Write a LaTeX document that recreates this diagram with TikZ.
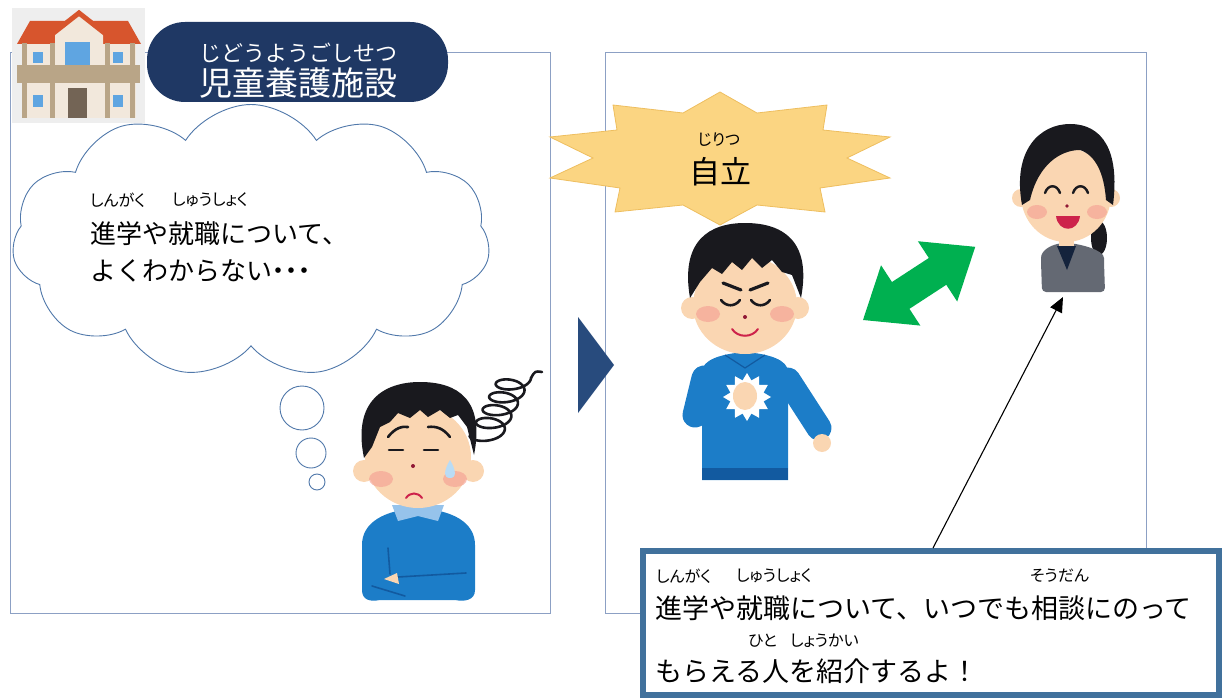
\documentclass[tikz,border=0pt]{standalone}
\usepackage{fontspec}
\setmainfont{Noto Sans CJK JP}
\newfontfamily\rubyfont[RawFeature=+palt]{Noto Sans CJK JP}
\usetikzlibrary{shapes.symbols,shapes.geometric,arrows.meta}

\definecolor{framegray}{RGB}{140,160,196}
\definecolor{navy}{RGB}{31,56,100}
\definecolor{cloudline}{RGB}{80,120,170}
\definecolor{chevron}{RGB}{40,75,125}
\definecolor{starfill}{RGB}{251,213,130}
\definecolor{starline}{RGB}{238,190,95}
\definecolor{arrowgreen}{RGB}{0,176,80}
\definecolor{boxline}{RGB}{65,113,156}
\definecolor{skincol}{RGB}{250,214,178}
\definecolor{blush}{RGB}{245,165,150}
\definecolor{hair}{RGB}{25,25,30}
\definecolor{shirt}{RGB}{28,125,200}
\definecolor{shirtdark}{RGB}{18,90,160}
\definecolor{collar}{RGB}{150,195,235}
\definecolor{suit}{RGB}{100,105,115}
\definecolor{innerwear}{RGB}{20,35,60}
\definecolor{lips}{RGB}{205,35,75}
\definecolor{sweat}{RGB}{185,220,245}
\definecolor{roof}{RGB}{215,85,45}
\definecolor{wall}{RGB}{242,232,220}
\definecolor{beam}{RGB}{185,165,135}
\definecolor{pane}{RGB}{95,165,225}
\definecolor{door}{RGB}{115,100,85}
\definecolor{housebg}{RGB}{238,238,238}

\begin{document}
\begin{tikzpicture}[x=1pt, y=-1pt,
    frame/.style={draw=framegray, line width=0.9pt},
    ruby/.style={font=\rubyfont\fontsize{16}{18}\selectfont, inner sep=0pt, anchor=west},
    honbun/.style={font=\fontsize{26}{30}\selectfont, inner sep=0pt, anchor=west},
    talktext/.style={font=\fontsize{27}{30}\selectfont, inner sep=0pt, anchor=west},
    bubble/.style={circle, draw=cloudline, fill=white, line width=0.9pt, inner sep=0pt},
    face/.style={fill=skincol},
    cheek/.style={fill=blush, opacity=0.7},
    stroke/.style={draw=hair, line width=2.6pt, line cap=round},
    arm/.style={draw=shirt, line width=25pt, line cap=round, line join=round}]
  \useasboundingbox (0,0) rectangle (1224,698);

  % the two frames
  \node[frame, minimum width=540pt, minimum height=561pt] (before) at (280,332.5) {};
  \node[frame, minimum width=541pt, minimum height=561pt] (after) at (875.5,332.5) {};

  % house
  \fill[housebg] (12,8) rectangle (145,123);
  \fill[wall] (22,40) rectangle (136,118);
  \fill[roof] (17,44) -- (30,21) -- (128,21) -- (141,44) -- cycle;
  \fill[wall] (55,65) -- (55,31) -- (79,15) -- (103,31) -- (103,65) -- cycle;
  \draw[roof, line width=5pt, line cap=round] (51,35) -- (79,13) -- (107,35);
  \fill[beam] (17,65) rectangle (140,83);
  \foreach \px in {22,50,105,130}
    \fill[beam] (\px,43) rectangle (\px+5,118);
  \foreach \px in {33,113} {
    \fill[pane] (\px,52) rectangle (\px+10,63);
    \fill[pane] (\px,95) rectangle (\px+10,107);
  }
  \fill[pane] (65,42) rectangle (90,65);
  \fill[door] (68,88) rectangle (87,118);

  % name plate
  \node[fill=navy, rounded corners=38pt, minimum width=301pt, minimum height=80pt] (shisetsu) at (297.5,62) {};
  \node[text=white, font=\fontsize{22}{24}\selectfont, inner sep=0pt] at (298,53) {じどうようごしせつ};
  \node[text=white, font=\fontsize{33}{36}\selectfont, inner sep=0pt] at (298,83) {児童養護施設};

  % thought cloud
  \node[cloud, cloud puffs=11, cloud puff arc=115, aspect=1.75, draw=cloudline, fill=white,
        line width=0.9pt, minimum width=478pt, minimum height=273pt, inner sep=0pt] (worry) at (251,241) {};
  \node[bubble, minimum size=44pt] (bub1) at (302,408) {};
  \node[bubble, minimum size=30pt] (bub2) at (311,453) {};
  \node[bubble, minimum size=16pt] (bub3) at (317,482) {};
  \node[ruby] at (90,200) {しんがく};
  \node[ruby] at (172,200) {しゅうしょく};
  \node[honbun] (worry1) at (90,234) {進学や就職について、};
  \node[honbun] (worry2) at (90,271) {よくわからない{\rubyfont ・・・}};

  % worried boy
  \fill[shirt] (362,590) -- (362,545) .. controls (362,522) and (385,510) .. (418,508)
    .. controls (452,510) and (475,522) .. (475,545) -- (475,590)
    .. controls (475,600) and (465,602) .. (455,600) -- (380,600)
    .. controls (370,602) and (362,600) .. (362,590) -- cycle;
  \fill[collar] (392,505) -- (444,505) -- (438,521) -- (418,516) -- (398,521) -- cycle;
  \draw[shirtdark, line width=1.6pt, line cap=round] (388,548) -- (390,574);
  \draw[shirtdark, line width=1.6pt, line cap=round] (398,577) -- (466,573);
  \draw[shirtdark, line width=1.6pt, line cap=round] (372,586) -- (405,596);
  \fill[face] (384,579) -- (397,573) -- (399,584) -- cycle;
  \fill[face] (364,471) circle (11);
  \fill[face] (473,471) circle (11);
  \fill[face] (418,457) ellipse (53 and 51);
  \fill[cheek] (381,479) ellipse (12 and 8);
  \fill[cheek] (455,479) ellipse (12 and 8);
  \fill[hair] (364,458) .. controls (352,400) and (385,382) .. (420,382)
    .. controls (458,382) and (485,400) .. (474,455) -- (467,427) -- (458,415) -- (450,418)
    -- (440,410) -- (428,417) -- (420,410) -- (410,418) -- (398,413) -- (390,422)
    -- (380,427) -- (372,447) -- cycle;
  \draw[stroke] (388,437) .. controls (395,428) and (402,426) .. (408,427);
  \draw[stroke] (428,427) .. controls (436,426) and (443,428) .. (450,437);
  \draw[stroke] (389,450) -- (403,450);
  \draw[stroke] (424,450) -- (438,450);
  \fill[lips!70!black] (413,466) circle (2);
  \draw[lips, line width=2pt, line cap=round] (406,498) .. controls (410,492) and (418,492) .. (422,498);
  \fill[sweat] (450,460) .. controls (444,470) and (443,478) .. (450,478)
    .. controls (457,478) and (456,470) .. (450,460) -- cycle;
  % scribble over his head
  \draw[hair, line width=2.6pt, line cap=round, line join=round]
    plot[domain=0:1620, samples=240, smooth] ({515 - \x/55 + 16*cos(\x)}, {378 + \x/28 + 8*sin(\x)});
  \draw[hair, line width=2.6pt, line cap=round] (531,378) .. controls (535,371) .. (542,372);

  % arrow between the frames
  \fill[chevron] (578,317) -- (614,365) -- (578,413) -- cycle;

  % burst
  \draw[fill=starfill, draw=starline, line width=0.8pt]
    (720,92) -- (757,113) -- (827,105) -- (823,130) -- (890,137) -- (847,158)
    -- (890,178) -- (820,188) -- (825,212) -- (757,205) -- (720,225) -- (683,205)
    -- (615,212) -- (620,188) -- (550,178) -- (593,158) -- (550,137) -- (617,130)
    -- (613,105) -- (683,113) -- cycle;
  \node[font=\rubyfont\fontsize{16}{18}\selectfont, inner sep=0pt] at (719,140) {じりつ};
  \node[font=\fontsize{31}{34}\selectfont, inner sep=0pt] (jiritsu) at (720,172) {自立};

  % confident boy
  \fill[shirt] (702,372) .. controls (702,360) and (720,354) .. (745,352)
    .. controls (770,354) and (788,360) .. (788,372) -- (788,480) -- (702,480) -- cycle;
  \fill[shirtdark] (702,468) rectangle (788,480);
  \draw[arm] (788,380) -- (819,428);
  \fill[face] (822,443) circle (9);
  \draw[arm] (704,378) -- (695,415) -- (728,400);
  \draw[shirtdark, line width=1.2pt] (725,355) -- (745,368) -- (765,355);
  \node[star, star points=12, star point ratio=1.4, fill=white, minimum size=48pt, inner sep=0pt] at (747,397) {};
  \fill[face] (745,396) ellipse (12 and 14);
  \fill[face] (692,308) circle (11);
  \fill[face] (798,308) circle (11);
  \fill[face] (745,305) ellipse (52 and 49);
  \fill[cheek] (708,314) ellipse (12 and 8);
  \fill[cheek] (782,314) ellipse (12 and 8);
  \fill[hair] (690,298) .. controls (680,240) and (710,223) .. (745,223)
    .. controls (782,223) and (812,240) .. (801,298) -- (792,275) -- (782,272) -- (772,260)
    -- (762,268) -- (752,258) -- (742,270) -- (732,262) -- (722,274) -- (712,268)
    -- (700,282) -- cycle;
  \draw[stroke, line width=3.2pt] (723,283) -- (741,290);
  \draw[stroke, line width=3.2pt] (750,290) -- (768,283);
  \draw[stroke] (721,300) .. controls (726,307) and (735,307) .. (740,300);
  \draw[stroke] (751,300) .. controls (756,307) and (765,307) .. (770,300);
  \fill[lips!70!black] (745,317) circle (2);
  \draw[lips, line width=2pt, line cap=round] (732,329) .. controls (738,338) and (752,338) .. (758,329);

  % two-way arrow
  \begin{scope}[shift={(863,320)}, rotate=33.1]
    \fill[arrowgreen] (0,0) -- (45,-36) -- (45,-16) -- (89,-16) -- (89,-36) -- (134,0)
      -- (89,36) -- (89,16) -- (45,16) -- (45,36) -- cycle;
  \end{scope}

  % adviser
  \fill[hair] (1099,238) ellipse (8 and 17);
  \fill[suit, rounded corners=4pt] (1042,292) -- (1041,262) .. controls (1041,250) and (1052,244) .. (1066,243)
    .. controls (1080,244) and (1104,250) .. (1104,262) -- (1105,292) -- cycle;
  \fill[face] (1059,232) rectangle (1074,250);
  \fill[innerwear] (1057,246) -- (1076,246) -- (1067,270) -- cycle;
  \fill[face] (1021,198) circle (9);
  \fill[face] (1111,198) circle (9);
  \fill[face] (1066,195) ellipse (45 and 47);
  \fill[cheek] (1037,212) ellipse (10 and 7);
  \fill[cheek] (1097,212) ellipse (10 and 7);
  \fill[hair] (1022,205) .. controls (1012,150) and (1040,124) .. (1070,124)
    .. controls (1102,124) and (1120,150) .. (1113,205) -- (1106,200)
    .. controls (1104,172) and (1095,155) .. (1080,150)
    .. controls (1060,150) and (1038,165) .. (1030,200) -- cycle;
  \draw[stroke, line width=2.4pt] (1045,193) .. controls (1048,184) and (1057,184) .. (1060,193);
  \draw[stroke, line width=2.4pt] (1073,193) .. controls (1076,184) and (1085,184) .. (1088,193);
  \fill[lips!70!black] (1067,206) circle (1.8);
  \fill[lips] (1056,216) -- (1080,216) .. controls (1078,233) and (1058,233) .. (1056,216) -- cycle;

  % message box
  \node[draw=boxline, line width=6pt, fill=white, minimum width=576pt, minimum height=144pt,
        inner sep=0pt] (talk) at (931,623) {};
  \coordinate (talktop) at (933,548);
  \coordinate (adviserfoot) at (1063,297);
  \draw[-{Triangle[length=15pt,width=13pt]}, line width=1.1pt] (talktop) -- (adviserfoot);

  \node[ruby] at (656,576) {しんがく};
  \node[ruby] at (736,576) {しゅうしょく};
  \node[ruby] at (1030,576) {そうだん};
  \node[talktext] (talk1) at (655,608) {進学や就職について、いつでも相談にのって};
  \node[ruby] at (748,641) {ひと};
  \node[ruby] at (790,641) {しょうかい};
  \node[talktext] (talk2) at (655,671) {もらえる人を紹介するよ！};
\end{tikzpicture}
\end{document}
